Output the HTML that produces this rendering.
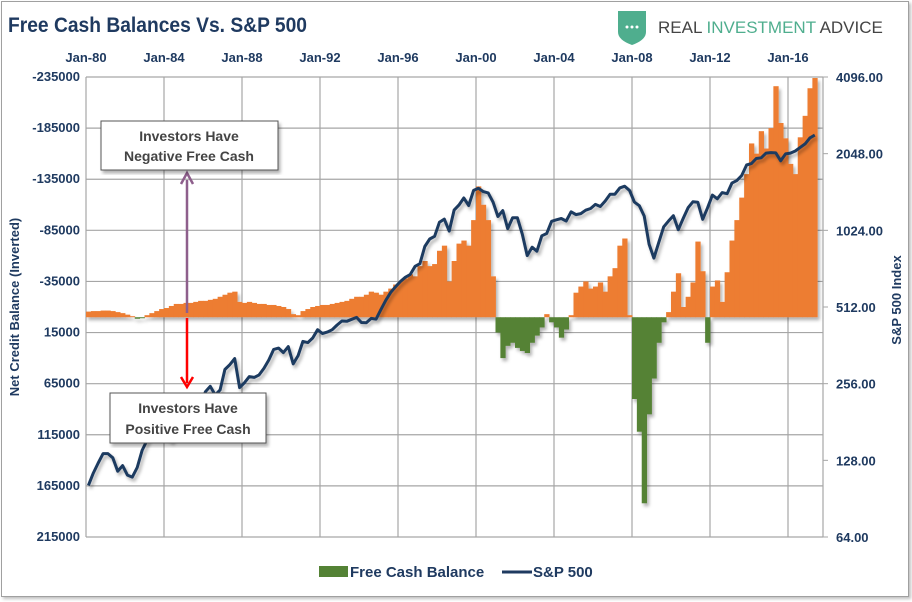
<!DOCTYPE html>
<html><head><meta charset="utf-8">
<style>
html,body{margin:0;padding:0;background:#fff;}
body{width:912px;height:602px;overflow:hidden;position:relative;font-family:"Liberation Sans Narrow","Liberation Sans",sans-serif;}
#frame{position:absolute;left:1px;top:1px;width:906px;height:594px;border:1px solid #a0a0a0;box-shadow:2px 2px 3px rgba(0,0,0,0.25);}
svg{position:absolute;left:0;top:0;}
</style></head>
<body>
<div id="frame"></div>
<svg id="chart" width="912" height="602">
<defs>
<filter id="sh" x="-5%" y="-5%" width="115%" height="115%">
<feDropShadow dx="2" dy="3" stdDeviation="1.5" flood-color="#000" flood-opacity="0.3"/>
</filter>
</defs>
<text x="8" y="32" font-size="21" font-weight="bold" fill="#1f3a60" textLength="299" lengthAdjust="spacingAndGlyphs">Free Cash Balances Vs. S&amp;P 500</text>
<g>
<path d="M618,11 L646,11 L646,32 Q646,40 632,45 Q618,40 618,32 Z" fill="#4fae8e"/>
<circle cx="627" cy="27" r="1.5" fill="#fff"/><circle cx="632" cy="27" r="1.5" fill="#fff"/><circle cx="637" cy="27" r="1.5" fill="#fff"/>
<text x="658" y="33" font-size="17" font-family="Liberation Sans, sans-serif"><tspan fill="#444">REAL </tspan><tspan fill="#4fae8e">INVESTMENT</tspan><tspan fill="#444"> ADVICE</tspan></text>
</g>
<g id="grid"></g>
<g id="bars" filter="url(#sh)"></g>
<g id="line" filter="url(#sh)"></g>
<g id="axes"></g>
<text transform="translate(19,307) rotate(-90)" text-anchor="middle" font-size="13" font-weight="bold" fill="#1f3a60">Net Credit Balance (Inverted)</text>
<text transform="translate(901,300) rotate(-90)" text-anchor="middle" font-size="13" font-weight="bold" fill="#1f3a60">S&amp;P 500 Index</text>
<g>
<line x1="187" y1="313" x2="187" y2="180" stroke="#8e5f8c" stroke-width="2.5"/>
<path d="M181,184 L187,173 L193,184" fill="none" stroke="#8e5f8c" stroke-width="2.5"/>
<rect x="101" y="121" width="177" height="49" fill="#fff" stroke="#555" filter="url(#sh)"/>
<text x="189" y="141" text-anchor="middle" font-size="14" font-weight="bold" fill="#444" font-family="Liberation Sans, sans-serif">Investors Have</text>
<text x="189" y="161" text-anchor="middle" font-size="14" font-weight="bold" fill="#444" font-family="Liberation Sans, sans-serif">Negative Free Cash</text>
</g>
<g>
<line x1="187" y1="318" x2="187" y2="383" stroke="#f00" stroke-width="2.5"/>
<path d="M181,377 L187,387 L193,377" fill="none" stroke="#f00" stroke-width="2.5"/>
<rect x="110" y="393" width="156" height="50" fill="#fff" stroke="#555" filter="url(#sh)"/>
<text x="188" y="413" text-anchor="middle" font-size="14" font-weight="bold" fill="#444" font-family="Liberation Sans, sans-serif">Investors Have</text>
<text x="188" y="434" text-anchor="middle" font-size="14" font-weight="bold" fill="#444" font-family="Liberation Sans, sans-serif">Positive Free Cash</text>
</g>
<g>
<rect x="319" y="566" width="29" height="11" fill="#548235"/>
<text x="350" y="577" font-size="15" font-weight="bold" fill="#1f3a60">Free Cash Balance</text>
<line x1="502" y1="572" x2="532" y2="572" stroke="#1f3a60" stroke-width="3"/>
<text x="533" y="577" font-size="15" font-weight="bold" fill="#1f3a60">S&amp;P 500</text>
</g>
</svg>
<script>
const startYear = 1980;
const credit = [
-5500,-6000,-6000,-6500, -6500,-6000,-5000,-4000, -2500,-1000,1500,1000, -2000,-4000,-6000,-8000,
-9000,-11000,-13000,-13000, -14000,-14000,-15000,-16000, -16000,-17000,-18000,-20000, -22000,-24000,-25000,-15000,
-14000,-15000,-14000,-13000, -13000,-12000,-12000,-11000, -10000,-8000,-3000,-2000, -6000,-8000,-10000,-11000,
-12000,-12000,-13000,-14000, -15000,-16000,-18000,-20000, -20000,-22000,-25000,-24000, -22000,-25000,-28000,-32000,
-35000,-38000,-42000,-40000, -50000,-55000,-50000,-52000, -65000,-70000,-35000,-55000, -72000,-75000,-70000,-95000,
-128000,-110000,-95000,-40000, 15000,40000,28000,25000, 30000,33000,35000,25000, 18000,10000,-3000,5000,
10000,20000,12000,-2000, -24000,-30000,-35000,-28000, -30000,-34000,-25000,-40000, -48000,-70000,-77000,-2000,
80000,112000,182000,95000, 60000,25000,5000,-5000, -25000,-43000,-10000,-20000, -34000,-74000,-45000,25000,
-30000,-36000,-15000,-44000, -75000,-95000,-117000,-140000, -170000,-160000,-182000,-165000, -185000,-226000,-190000,-175000,
-150000,-140000,-176000,-197000, -224000,-234000];
const sp500 = [
102,114,125,136, 136,131,116,122, 112,110,120,140, 153,168,166,164, 159,153,166,167, 180,191,182,211,
238,250,231,242, 291,304,321,247, 258,273,271,277, 294,317,349,353, 339,358,306,330, 375,371,387,417,
403,408,417,435, 451,450,458,466, 445,444,462,459, 500,544,584,615, 645,670,687,740, 757,885,947,970,
1101,1133,1017,1229, 1286,1372,1282,1469, 1498,1454,1436,1320, 1160,1224,1040,1148, 1147,989,815,879,
848,975,995,1111, 1126,1140,1114,1211, 1180,1191,1228,1248, 1294,1270,1335,1418, 1420,1503,1526,1468,
1322,1280,1166,903, 797,919,1057,1115, 1169,1030,1141,1257, 1325,1320,1131,1257, 1408,1362,1440,1426,
1569,1606,1681,1848, 1872,1960,1972,2058, 2067,2063,1920,2043, 2059,2098,2168,2238, 2362,2423];
const xTickLabels = ["Jan-80","Jan-84","Jan-88","Jan-92","Jan-96","Jan-00","Jan-04","Jan-08","Jan-12","Jan-16"];
const leftTicks = [-235000,-185000,-135000,-85000,-35000,15000,65000,115000,165000,215000];
const rightTicks = [4096,2048,1024,512,256,128,64];

const NS="http://www.w3.org/2000/svg";
const X0=86, X1=823, Y0=77, Y1=537;
const pxPerYear=19.5;
function xScale(t){return X0+(t-startYear)*pxPerYear;}
function yLeft(v){return Y0+(v-(-235000))/450000*(Y1-Y0);}
function yRight(v){return Y1-Math.log2(v/64)/6*(Y1-Y0);}
function mk(tag,attrs,parent){const e=document.createElementNS(NS,tag);for(const k in attrs)e.setAttribute(k,attrs[k]);parent.appendChild(e);return e;}

const grid=document.getElementById('grid'), axes=document.getElementById('axes');
leftTicks.forEach((v,i)=>{
  const y=yLeft(v);
  const l=mk('line',{x1:X0,x2:X1,y1:y,y2:y,stroke:'#a6a6a6','stroke-width':1.2},grid);
  
  
  const t=mk('text',{x:X0-6,y:y+4,'text-anchor':'end','font-size':13,'font-weight':'bold',fill:'#1f3a60'},axes);
  t.textContent=String(v);
  
  
});
rightTicks.forEach(v=>{
  const y=yRight(v);
  const l=mk('line',{x1:X1,x2:X1+5,y1:y,y2:y,stroke:'#a6a6a6'},axes);
  
  
  const t=mk('text',{x:X1+13,y:y+5,'font-size':13,'font-weight':'bold',fill:'#1f3a60'},axes);
  t.textContent=v.toFixed(2);
  
  
});
xTickLabels.forEach((s,i)=>{
  const x=xScale(startYear+i*4);
  const l=mk('line',{x1:x,x2:x,y1:Y0,y2:Y1,stroke:'#a6a6a6','stroke-width':1.2},grid);
  
  
  const t=mk('text',{x:x,y:62,'text-anchor':'middle','font-size':13,'font-weight':'bold',fill:'#1f3a60'},axes);
  t.textContent=s;
  
  
});
const rb=mk('line',{x1:X1,x2:X1,y1:Y0,y2:Y1,stroke:'#a6a6a6','stroke-width':1.2},grid);



const bars=document.getElementById('bars');
const bw=pxPerYear/4, y0=yLeft(0);
credit.forEach((v,i)=>{
  const x=xScale(startYear+i/4), y=yLeft(v);
  const r=mk('rect',{x:x,y:Math.min(y,y0),width:bw+0.4,height:Math.abs(y-y0),fill:v<0?'#ed7d31':'#548235'},bars);
  
  
});
const line=document.getElementById('line');
const pts=sp500.map((v,i)=>xScale(startYear+(i+0.5)/4).toFixed(1)+','+yRight(v).toFixed(1)).join(' ');
const pl=mk('polyline',{points:pts,fill:'none',stroke:'#1f3a60','stroke-width':3,'stroke-linejoin':'round'},line);


</script>
</body></html>
